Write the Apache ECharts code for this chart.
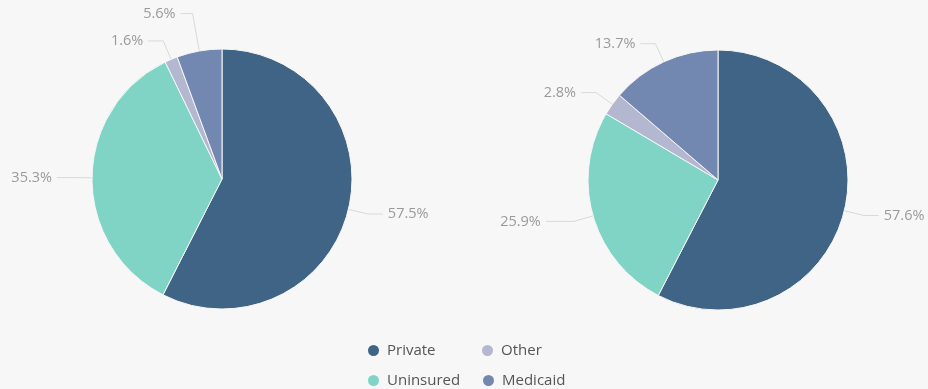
<!DOCTYPE html>
<html>
<head>
<meta charset="utf-8">
<script src="https://cdn.jsdelivr.net/npm/echarts@6/dist/echarts.min.js"></script>
<style>
  html, body { margin: 0; padding: 0; background: #f7f7f7; }
  #chart { width: 928px; height: 389px; }
</style>
</head>
<body>
<div id="chart"></div>
<script>
// Insurance coverage shares (percent), two groups
const categories = ['Private', 'Uninsured', 'Other', 'Medicaid'];
const leftValues = [57.5, 35.3, 1.6, 5.6];
const rightValues = [57.6, 25.9, 2.8, 13.7];
const colors = ['#3f6485', '#80d4c6', '#b3b7cf', '#7388b1'];

// Connector-line lengths per slice, so the small top slices keep their labels apart
const leftLines = [null, null, null, { length: 38, length2: 12 }];
const rightLines = [null, { length: 20, length2: 28 }, null, null];

function toData(values, lines) {
  return categories.map((name, i) => {
    const item = { name, value: values[i] };
    if (lines[i]) item.labelLine = lines[i];
    return item;
  });
}

function pieSeries(values, lines, center) {
  return {
    type: 'pie',
    center: center,
    radius: 130,
    startAngle: 90,
    clockwise: true,
    avoidLabelOverlap: true,
    data: toData(values, lines),
    itemStyle: { borderColor: '#f7f7f7', borderWidth: 1 },
    label: {
      show: true,
      formatter: p => p.value.toFixed(1) + '%',
      color: '#9a9a9a',
      fontSize: 14.5,
      fontFamily: 'Open Sans, sans-serif',
      overflow: 'none',
      edgeDistance: 0
    },
    labelLine: {
      show: true,
      length: 20,
      length2: 15,
      lineStyle: { color: '#d9d9d9', width: 1 }
    },
    emphasis: { disabled: true }
  };
}

const legendText = {
  color: '#555',
  fontSize: 15,
  fontFamily: 'Open Sans, sans-serif',
  padding: [0, 0, 0, 2]
};

// Legend laid out as a 2x2 grid: one legend component per entry
const legendSlots = [
  { name: 'Private', left: 366, top: 343 },
  { name: 'Other', left: 480, top: 343 },
  { name: 'Uninsured', left: 366, top: 373 },
  { name: 'Medicaid', left: 481, top: 373 }
];

const chart = echarts.init(document.getElementById('chart'));
chart.setOption({
  backgroundColor: '#f7f7f7',
  color: colors,
  animation: false,
  legend: legendSlots.map(s => ({
    data: [s.name],
    left: s.left,
    top: s.top,
    padding: 0,
    icon: 'circle',
    itemWidth: 13,
    itemHeight: 13,
    textStyle: legendText,
    selectedMode: false
  })),
  series: [
    pieSeries(leftValues, leftLines, [222, 179]),
    pieSeries(rightValues, rightLines, [718, 180])
  ]
});
</script>
</body>
</html>
